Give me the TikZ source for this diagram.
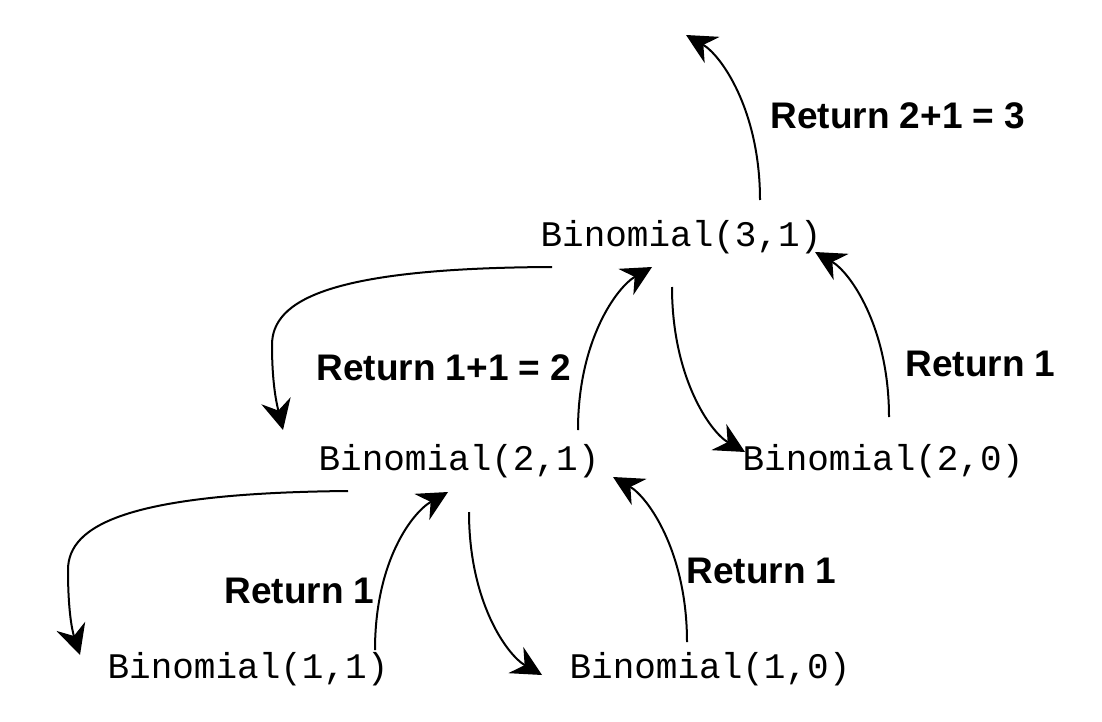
\documentclass[tikz,border=0pt]{standalone}
\usepackage{fontspec}
\setmonofont{Liberation Mono}
\setsansfont{Liberation Sans}
\usetikzlibrary{arrows.meta,calc}

\begin{document}
\begin{tikzpicture}[x=0.5pt,y=-0.5pt]
        \tikzset{call/.style={anchor=base,inner sep=0pt,font=\ttfamily\fontsize{18}{22}\selectfont},
            ret/.style={anchor=base west,inner sep=0pt,font=\sffamily\bfseries\fontsize{18.5}{22}\selectfont},
            link/.style={draw,line width=1pt,-{Stealth[length=15pt,width=15pt,inset=5pt]}}}
        \useasboundingbox (0,0) rectangle (1102,722);
        \node[call] (b31) at (681,246) {Binomial(3,1)};
        \node[call] (b21) at (459,470) {Binomial(2,1)};
        \node[call] (b20) at (883,470) {Binomial(2,0)};
        \node[call] (b11) at (248,678) {Binomial(1,1)};
        \node[call] (b10) at (710,678) {Binomial(1,0)};
        \coordinate (top) at (686,35);
        \node[ret] (r31) at (770,128) {Return 2+1 = 3};
        \node[ret] (r21) at (316,380) {Return 1+1 = 2};
        \node[ret] (r20) at (905,376) {Return 1};
        \node[ret] (r10) at (686,583) {Return 1};
        \node[ret] (r11) at (224,603) {Return 1};
        \path[link] ($(b31.base)+(79,-46)$) .. controls +(0,-90) and +(35,20) .. (top);
        \path[link] ($(b31.base)+(-129,21)$) .. controls +(-222,1) and +(0,-45) .. (272,345)
            .. controls +(0,40) and +(-6,-25) .. ($(b21.base)+(-176,-40)$);
        \path[link] ($(b21.base)+(119,-40)$) .. controls +(0,-90) and +(-35,20) .. ($(b31.base)+(-29,21)$);
        \path[link] ($(b31.base)+(-9,41)$) .. controls +(0,90) and +(-35,-20) .. ($(b20.base)+(-138,-18)$);
        \path[link] ($(b20.base)+(6,-53)$) .. controls +(0,-90) and +(35,20) .. ($(b31.base)+(134,6)$);
        \path[link] ($(b21.base)+(-111,21)$) .. controls +(-220,2) and +(0,-45) .. (68,570)
            .. controls +(0,40) and +(-8,-25) .. ($(b11.base)+(-168,-23)$);
        \path[link] ($(b11.base)+(127,-28)$) .. controls +(0,-90) and +(-35,20) .. ($(b21.base)+(-11,22)$);
        \path[link] ($(b21.base)+(10,42)$) .. controls +(0,90) and +(-35,-20) .. ($(b10.base)+(-168,-3)$);
        \path[link] ($(b10.base)+(-23,-36)$) .. controls +(0,-90) and +(35,20) .. ($(b21.base)+(154,7)$);
    \end{tikzpicture}
\end{document}
